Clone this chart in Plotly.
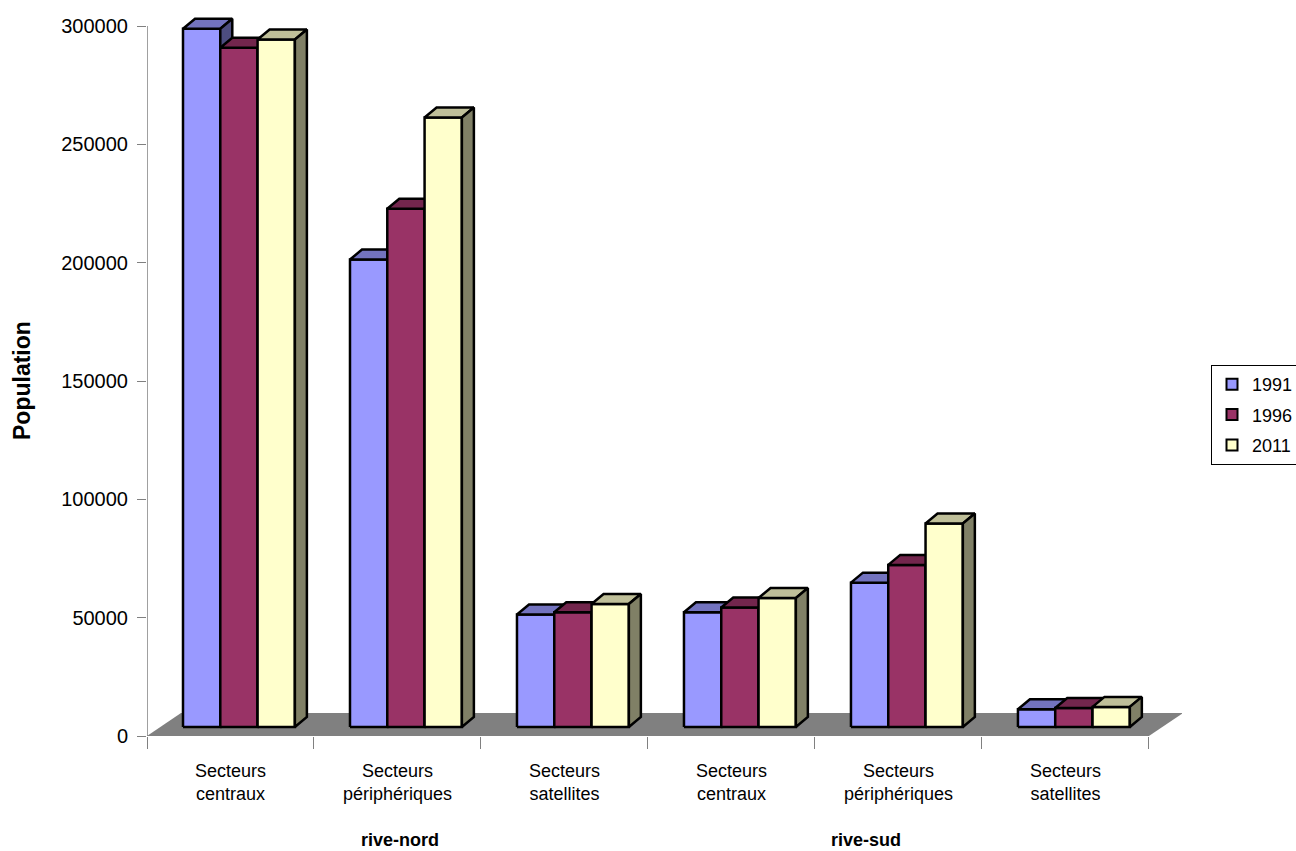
import plotly.graph_objects as go

# ---------------- data ----------------
categories = ["Secteurs<br>centraux", "Secteurs<br>périphériques", "Secteurs<br>satellites",
              "Secteurs<br>centraux", "Secteurs<br>périphériques", "Secteurs<br>satellites"]
groups = ["rive-nord", "rive-sud"]
years = ["1991", "1996", "2011"]
pop_1991 = [295000, 197500, 47500, 48500, 61000, 7500]
pop_1996 = [287000, 219000, 48500, 50500, 68500, 8000]
pop_2011 = [290500, 257500, 52000, 54500, 86000, 8500]
y_ticks = [0, 50000, 100000, 150000, 200000, 250000, 300000]

series = [pop_1991, pop_1996, pop_2011]
front_colors = ["#9999FF", "#993366", "#FFFFCC"]
top_colors = ["#7373BF", "#73264D", "#BFBF99"]
side_colors = ["#4D4D80", "#4D1A33", "#808066"]

# ---------------- geometry (in axis units) ----------------
YMAX = 300000
n_cat = len(categories)
x_max = n_cat + 0.198            # floor sticks out to the right
px_x = 1 / 167.0                 # one pixel in x units (category = 167 px)
px_y = YMAX / 710.0              # one pixel in y units
y_top = YMAX * 726 / 710.0       # headroom so the 3D tops are not clipped

bar_off = 36 * px_x              # left edge of first bar inside its category
bar_w = 37.3 * px_x
floor_dx, floor_dy = 34 * px_x, 23 * px_y
bar_b0 = 9 * px_y                # bar front base (depth position on the floor)
depth_dx, depth_dy = 12 * px_x, 10 * px_y

FONT = "Liberation Sans, Arial, sans-serif"

fig = go.Figure()

# floor
fig.add_trace(go.Scatter(
    x=[0, n_cat, n_cat + floor_dx, floor_dx, 0],
    y=[0, 0, floor_dy, floor_dy, 0],
    mode="lines", fill="toself", fillcolor="#808080",
    line=dict(width=0, color="#808080"), hoverinfo="skip", showlegend=False))

# axis lines (x baseline and y line up to the top tick)
fig.add_trace(go.Scatter(
    x=[0, n_cat], y=[0, 0], mode="lines",
    line=dict(color="#808080", width=1), hoverinfo="skip", showlegend=False))
fig.add_trace(go.Scatter(
    x=[0, 0], y=[0, YMAX], mode="lines",
    line=dict(color="#808080", width=1.5), hoverinfo="skip", showlegend=False))

def poly(xs, ys, color):
    fig.add_trace(go.Scatter(
        x=xs + [xs[0]], y=ys + [ys[0]], mode="lines", fill="toself",
        fillcolor=color, line=dict(color="black", width=2.5),
        hoverinfo="skip", showlegend=False))

for i in range(n_cat):
    for j, vals in enumerate(series):
        v = vals[i]
        xl = i + bar_off + j * bar_w
        xr = xl + bar_w
        yb = bar_b0
        yt = bar_b0 + v
        # front
        poly([xl, xr, xr, xl], [yb, yb, yt, yt], front_colors[j])
        # top
        poly([xl, xr, xr + depth_dx, xl + depth_dx],
             [yt, yt, yt + depth_dy, yt + depth_dy], top_colors[j])
        # side
        poly([xr, xr + depth_dx, xr + depth_dx, xr],
             [yb, yb + depth_dy, yt + depth_dy, yt], side_colors[j])

# legend entries
for j, yr in enumerate(years):
    fig.add_trace(go.Scatter(
        x=[None], y=[None], mode="markers", name=yr, legendgroup=yr,
        marker=dict(symbol="square", size=11, color=front_colors[j],
                    line=dict(color="black", width=2))))

# group labels
group_x = [1.515, 4.305]
for gx, g in zip(group_x, groups):
    fig.add_annotation(x=gx, y=-0.1465 * 710 / 726, xref="x", yref="paper",
                       text="<b>" + g + "</b>", showarrow=False,
                       xanchor="center", yanchor="middle",
                       font=dict(family=FONT, size=18, color="black"))

# value-axis title (centred on the 0..300000 span)
fig.add_annotation(x=(22 - 147) / 1035.0, y=(736 - 381) / 726.0,
                   xref="paper", yref="paper", text="<b>Population</b>",
                   textangle=-90, showarrow=False,
                   xanchor="center", yanchor="middle",
                   font=dict(family=FONT, size=23, color="black"))

fig.update_layout(
    width=1296, height=851,
    margin=dict(l=147, r=114, t=10, b=115, autoexpand=False),
    paper_bgcolor="white", plot_bgcolor="white",
    font=dict(family=FONT, size=18, color="black"),
    showlegend=True,
    legend=dict(x=(1211 - 147) / 1035.0, y=(736 - 365) / 726.0,
                xanchor="left", yanchor="top",
                bordercolor="black", borderwidth=1, bgcolor="white",
                font=dict(family=FONT, size=18, color="black"),
                itemwidth=30, tracegroupgap=4),
    xaxis=dict(range=[0, x_max], showgrid=False, zeroline=False, showline=False,
               tickmode="array", tickvals=[i + 0.5 for i in range(n_cat)],
               ticktext=categories, ticks="", ticklabelstandoff=22,
               tickfont=dict(family=FONT, size=18, color="black"),
               minor=dict(tickmode="linear", tick0=0, dtick=1, ticks="outside",
                          ticklen=12, tickcolor="#808080", tickwidth=1, showgrid=False)),
    yaxis=dict(range=[0, y_top], showgrid=False, zeroline=False, showline=False,
               tickmode="array", tickvals=y_ticks, tickformat="d",
               ticks="outside", ticklen=9,
               tickcolor="#808080", tickwidth=1, ticklabelstandoff=5,
               tickfont=dict(family=FONT, size=20, color="black")),
)

fig.write_html("out.html")
